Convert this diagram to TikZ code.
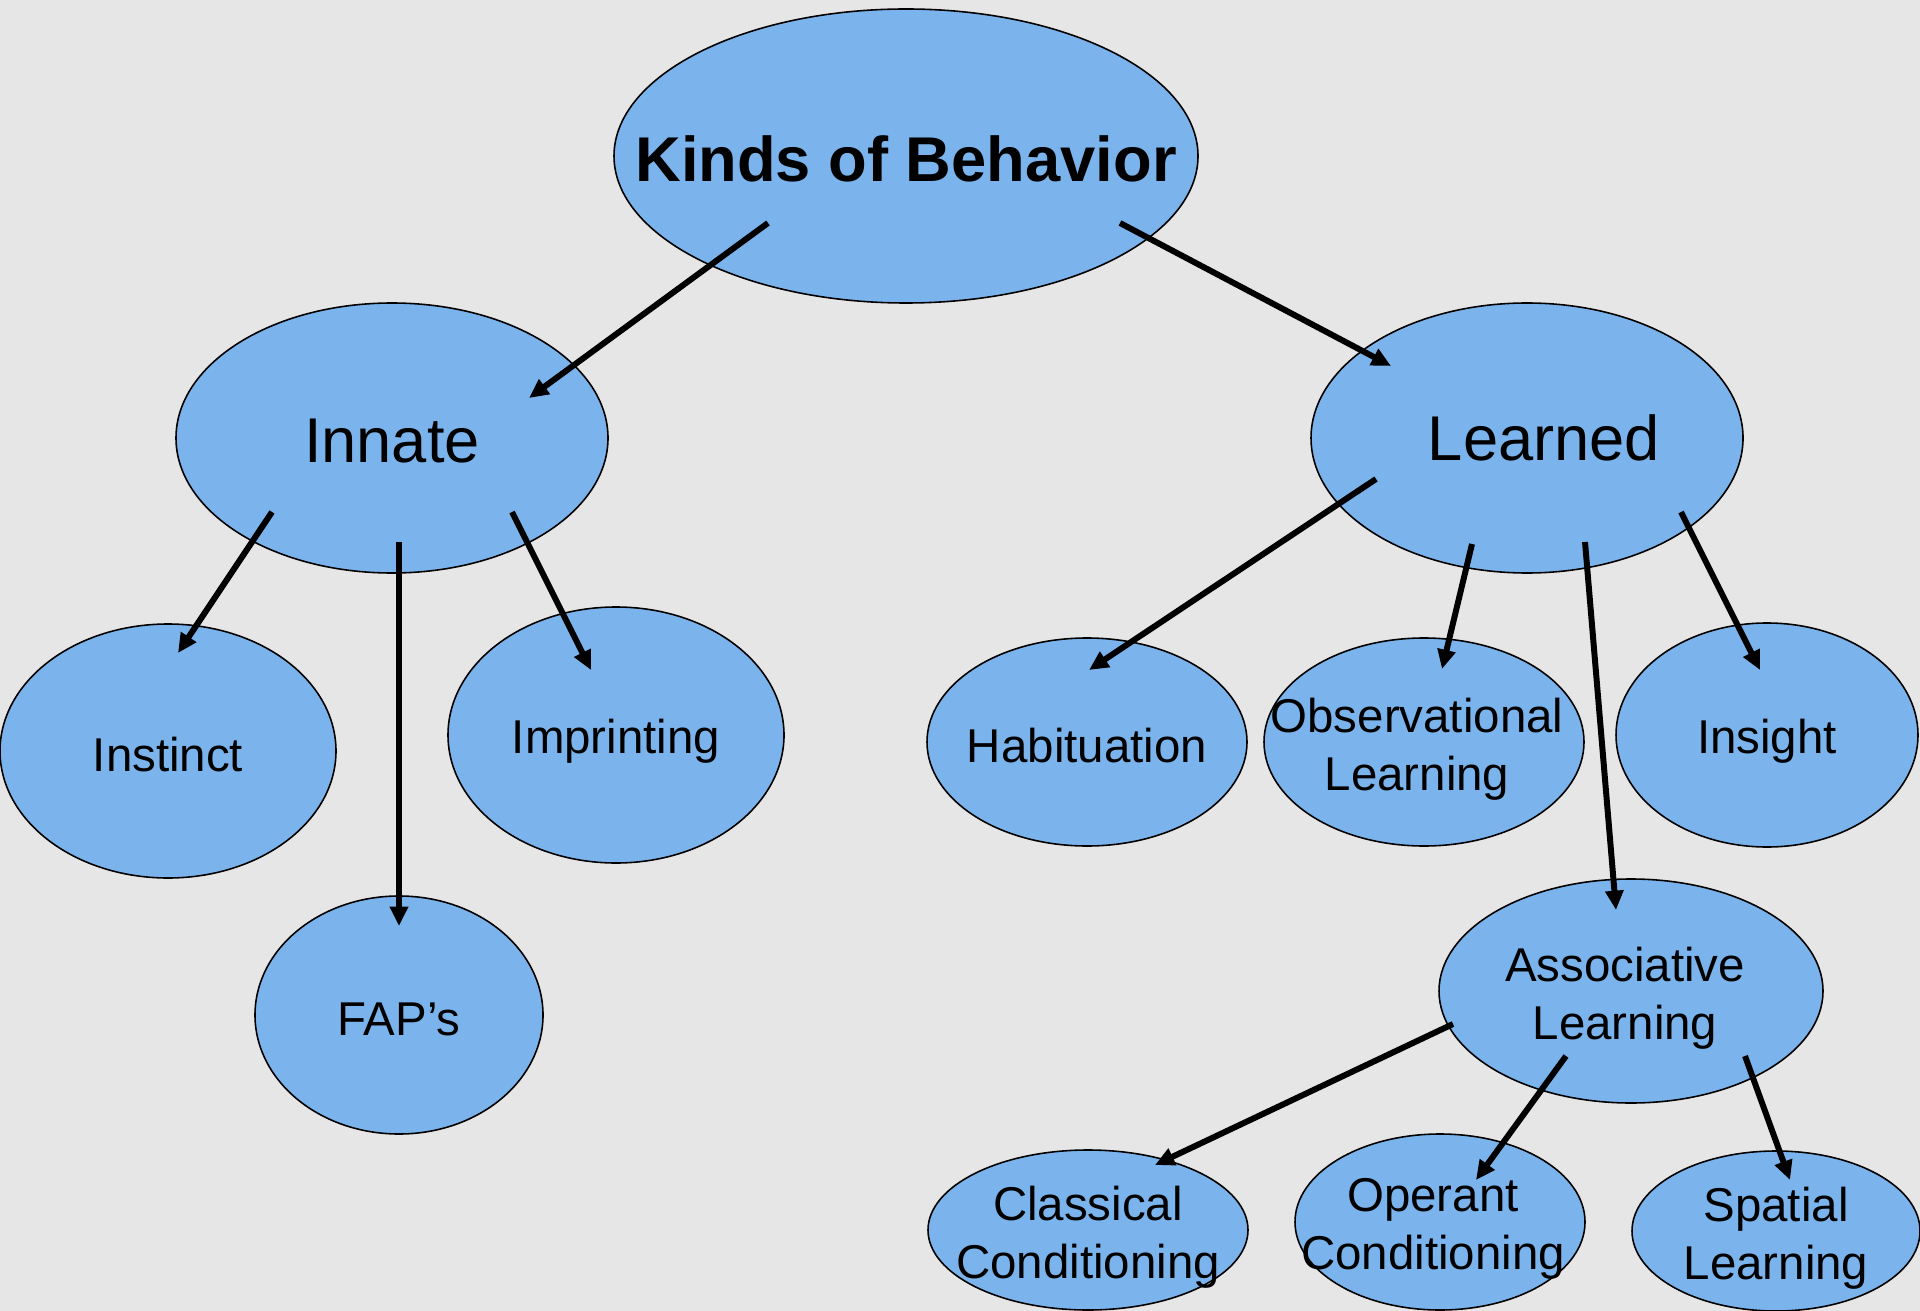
\documentclass[tikz,border=0pt]{standalone}
\usepackage{fontspec}
\setmainfont{Liberation Sans}
\usetikzlibrary{arrows.meta, shapes.geometric, calc}
\definecolor{bubbleblue}{RGB}{123,180,236}
\definecolor{granite}{RGB}{230,230,230}

\begin{document}
\begin{tikzpicture}[>={Triangle[length=5.5pt,width=5pt]},
  bubble/.style={ellipse, draw=black, line width=0.45pt, fill=bubbleblue, inner sep=0pt},
  dims/.style 2 args={minimum width=#1cm, minimum height=#2cm},
  bigtext/.style={font=\fontsize{18}{21.6}\selectfont, align=center, inner sep=0pt, yshift=-0.03cm},
  smalltext/.style={font=\fontsize{13.5}{16.4}\selectfont, align=center, inner sep=0pt, yshift=-0.04cm},
  twoline/.style={smalltext, yshift=-0.03cm},
  link/.style={->, line width=1.7pt}]

    \useasboundingbox (0,0) rectangle (19.2,-13.11);
    \fill[granite] (0,0) rectangle (19.2,-13.11);

    \node[bubble, dims={5.84}{2.94}, label={[bigtext, font=\fontsize{18}{21.6}\selectfont\bfseries]center:Kinds of Behavior}] (root) at (9.06,-1.56) {};

    \node[bubble, dims={4.32}{2.70}, label={[bigtext]center:Innate}] (innate) at (3.92,-4.38) {};
    \node[bubble, dims={4.32}{2.70}, label={[bigtext, xshift=0.17cm, yshift=0.03cm]center:Learned}] (learned) at (15.27,-4.38) {};

    \node[bubble, dims={3.36}{2.54}, label={[smalltext]center:Instinct}] (instinct) at (1.68,-7.51) {};
    \node[bubble, dims={3.36}{2.56}, label={[smalltext, yshift=-0.02cm]center:Imprinting}] (imprint) at (6.16,-7.35) {};
    \node[bubble, dims={2.88}{2.38}, label={[smalltext]center:FAP’s}] (faps) at (3.99,-10.15) {};

    \node[bubble, dims={3.20}{2.08}, label={[smalltext]center:Habituation}] (habit) at (10.87,-7.42) {};
    \node[bubble, dims={3.20}{2.08}, label={[twoline, xshift=-0.07cm]center:{Observational\\Learning}}] (observ) at (14.24,-7.42) {};
    \node[bubble, dims={3.02}{2.24}, label={[smalltext, yshift=-0.02cm]center:Insight}] (insight) at (17.67,-7.35) {};
    \node[bubble, dims={3.84}{2.24}, label={[twoline, xshift=-0.06cm]center:{Associative\\Learning}}] (assoc) at (16.31,-9.91) {};

    \node[bubble, dims={3.20}{1.60}, label={[twoline]center:{Classical\\Conditioning}}] (classical) at (10.88,-12.30) {};
    \node[bubble, dims={2.90}{1.76}, label={[twoline, xshift=-0.07cm]center:{Operant\\Conditioning}}] (operant) at (14.40,-12.22) {};
    \node[bubble, dims={2.88}{1.60}, label={[twoline]center:{Spatial\\Learning}}] (spatial) at (17.76,-12.31) {};

    \draw[link] ($(root)+(-1.38,-0.67)$) -- ($(innate)+(1.37,0.40)$);
    \draw[link] ($(root)+(2.14,-0.67)$) -- ($(learned)+(-1.36,0.72)$);

    \draw[link] ($(innate)+(-1.20,-0.74)$) -- ($(instinct)+(0.10,0.98)$);
    \draw[link] ($(innate)+(0.07,-1.04)$) -- ($(faps)+(0,0.89)$);
    \draw[link] ($(innate)+(1.20,-0.74)$) -- ($(imprint)+(-0.25,0.65)$);

    \draw[link] ($(learned)+(-1.51,-0.41)$) -- ($(habit)+(0.02,0.72)$);
    \draw[link] ($(learned)+(-0.55,-1.06)$) -- ($(observ)+(0.18,0.73)$);
    \draw[link] ($(learned)+(0.58,-1.04)$) -- ($(assoc)+(-0.15,0.81)$);
    \draw[link] ($(learned)+(1.54,-0.74)$) -- ($(insight)+(-0.07,0.65)$);

    \draw[link] ($(assoc)+(-1.78,-0.33)$) -- ($(classical)+(0.67,0.65)$);
    \draw[link] ($(assoc)+(-0.65,-0.65)$) -- ($(operant)+(0.36,0.42)$);
    \draw[link] ($(assoc)+(1.14,-0.65)$) -- ($(spatial)+(0.14,0.51)$);

\end{tikzpicture}
\end{document}
